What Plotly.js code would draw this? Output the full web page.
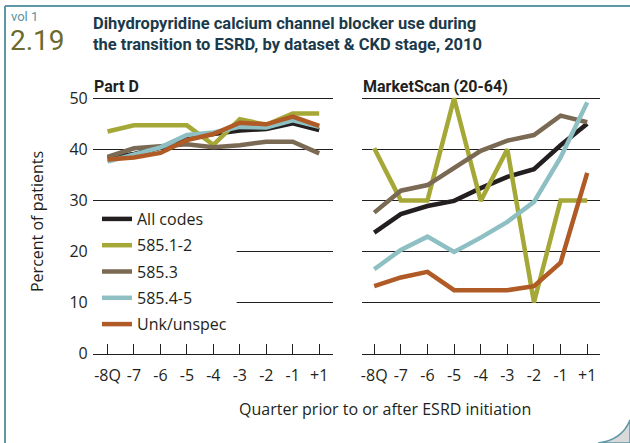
<!DOCTYPE html>
<html>
<head>
<meta charset="utf-8">
<script src="https://cdn.plot.ly/plotly-3.0.1.min.js"></script>
<style>html,body{margin:0;padding:0;background:#fff;}#chart{width:630px;height:443px;}</style>
</head>
<body>
<div id="chart"></div>
<script>
// ---- Data ----
var quarters = ['-8Q', '-7', '-6', '-5', '-4', '-3', '-2', '-1', '+1'];
var seriesNames = ['All codes', '585.1-2', '585.3', '585.4-5', 'Unk/unspec'];

// Part D
var partD_all     = [38.3, 39.1, 40.3, 42.0, 43.0, 43.7, 44.0, 45.1, 43.8];
var partD_5851_2  = [43.5, 44.7, 44.7, 44.7, 40.9, 45.9, 44.8, 47.0, 47.0];
var partD_5853    = [38.5, 40.2, 40.6, 41.0, 40.4, 40.8, 41.5, 41.5, 39.2];
var partD_5854_5  = [37.6, 38.9, 40.4, 42.8, 43.3, 44.4, 44.3, 45.7, 44.4];
var partD_unk     = [38.0, 38.4, 39.3, 41.8, 43.0, 45.2, 44.9, 46.4, 44.6];

// MarketScan (20-64)
var ms_all        = [23.7, 27.3, 28.9, 29.9, 32.4, 34.6, 36.1, 40.8, 45.0];
var ms_5851_2     = [40.2, 30.0, 30.0, 50.0, 29.9, 40.0, 10.0, 30.0, 30.0];
var ms_5853       = [27.6, 31.9, 33.0, 36.3, 39.7, 41.7, 42.8, 46.6, 45.3];
var ms_5854_5     = [16.5, 20.3, 22.9, 19.9, 22.7, 25.8, 29.7, 38.4, 49.2];
var ms_unk        = [13.2, 14.9, 16.0, 12.4, 12.4, 12.4, 13.2, 17.8, 35.4];

var yTickVals = [0, 10, 20, 30, 40, 50];

var colors = ['#231f20', '#a5a836', '#7b6a53', '#8dbfc3', '#b05a25'];
var FONT = 'Open Sans, Noto Sans, sans-serif';
var CFONT = 'Roboto, Open Sans, sans-serif';

var partD = [partD_all, partD_5851_2, partD_5853, partD_5854_5, partD_unk];
var ms = [ms_all, ms_5851_2, ms_5853, ms_5854_5, ms_unk];

var traces = [];
for (var i = 0; i < seriesNames.length; i++) {
  traces.push({
    x: quarters, y: partD[i], xaxis: 'x', yaxis: 'y',
    type: 'scatter', mode: 'lines', name: seriesNames[i],
    legendgroup: 'g' + i,
    line: {color: colors[i], width: 4.5},
    showlegend: true, hoverinfo: 'skip'
  });
}
for (var j = 0; j < seriesNames.length; j++) {
  traces.push({
    x: quarters, y: ms[j], xaxis: 'x2', yaxis: 'y2',
    type: 'scatter', mode: 'lines', name: seriesNames[j],
    legendgroup: 'g' + j,
    line: {color: colors[j], width: 4.5},
    showlegend: false, hoverinfo: 'skip'
  });
}

var W = 630, H = 443;
function px(x) { return x / W; }
function py(y) { return (H - y) / H; }

var xCommon = {
  type: 'category', showgrid: false, zeroline: false,
  showline: true, linecolor: '#231f20', linewidth: 1,
  ticks: 'inside', ticklen: 10, tickwidth: 1, tickcolor: '#231f20',
  tickfont: {family: FONT, size: 16, color: '#231f20'},
  ticklabelstandoff: 7,
  fixedrange: true
};
var yCommon = {
  range: [0, 51], tickvals: yTickVals, showgrid: true, gridcolor: '#231f20', gridwidth: 1,
  zeroline: false, showline: false, ticks: '',
  tickfont: {family: FONT, size: 16, color: '#231f20'},
  fixedrange: true
};

var layout = {
  width: W, height: H,
  margin: {l: 0, r: 0, t: 0, b: 0},
  paper_bgcolor: '#ffffff', plot_bgcolor: 'rgba(0,0,0,0)',
  showlegend: true,
  legend: {
    x: px(97), y: py(202), xanchor: 'left', yanchor: 'top',
    bgcolor: 'rgba(0,0,0,0)', borderwidth: 0,
    font: {family: FONT, size: 16, color: '#231f20'},
    tracegroupgap: 2.5, itemwidth: 30, traceorder: 'grouped'
  },
  xaxis: Object.assign({}, xCommon, {domain: [px(92.7), px(332.7)], range: [-0.56, 8.51], anchor: 'y'}),
  yaxis: Object.assign({}, yCommon, {domain: [py(353.5), py(93.2)], anchor: 'x', ticklabelstandoff: 4}),
  xaxis2: Object.assign({}, xCommon, {domain: [px(361.7), px(600)], range: [-0.47, 8.48], anchor: 'y2'}),
  yaxis2: Object.assign({}, yCommon, {domain: [py(353.5), py(93.2)], anchor: 'x2', showticklabels: false}),
  shapes: [
    {type: 'rect', xref: 'x', yref: 'y', x0: -0.56, x1: 4.88, y0: 3, y1: 28.5,
     fillcolor: '#ffffff', line: {width: 0}, layer: 'between'},
    {type: 'line', xref: 'paper', yref: 'paper', x0: px(5), x1: px(630), y0: py(6), y1: py(6),
     line: {color: '#5e97a6', width: 2}},
    {type: 'line', xref: 'paper', yref: 'paper', x0: px(5), x1: px(5), y0: py(6), y1: py(443),
     line: {color: '#5e97a6', width: 2}},
    {type: 'path', xref: 'paper', yref: 'paper',
     path: 'M ' + px(598) + ',' + py(443) + ' Q ' + px(622) + ',' + py(440) + ' ' + px(630) + ',' + py(420) +
           ' L ' + px(630) + ',' + py(443) + ' Z',
     fillcolor: '#d9d9d9', line: {color: '#5e97a6', width: 1.5}}
  ],
  annotations: [
    {text: 'vol 1', xref: 'paper', yref: 'paper', x: px(9), y: py(16), xanchor: 'left', yanchor: 'middle',
     showarrow: false, font: {family: CFONT, size: 13, color: '#5b93a3'}},
    {text: '2.19', xref: 'paper', yref: 'paper', x: px(8), y: py(41), xanchor: 'left', yanchor: 'middle',
     showarrow: false, font: {family: CFONT, size: 28, color: '#6c6a2c'}},
    {text: '<b>Dihydropyridine calcium channel blocker use during<br>the transition to ESRD, by dataset &amp; CKD stage, 2010</b>',
     xref: 'paper', yref: 'paper', x: px(91), y: py(34), xanchor: 'left', yanchor: 'middle', align: 'left',
     showarrow: false, font: {family: CFONT, size: 16.5, color: '#1b3a4b'}},
    {text: '<b>Part D</b>', xref: 'paper', yref: 'paper', x: px(92), y: py(86), xanchor: 'left', yanchor: 'middle',
     showarrow: false, font: {family: CFONT, size: 16, color: '#231f20'}},
    {text: '<b>MarketScan (20-64)</b>', xref: 'paper', yref: 'paper', x: px(361), y: py(86), xanchor: 'left', yanchor: 'middle',
     showarrow: false, font: {family: CFONT, size: 16, color: '#231f20'}},
    {text: 'Percent of patients', xref: 'paper', yref: 'paper', x: px(37), y: py(222), xanchor: 'center', yanchor: 'middle',
     textangle: -90, showarrow: false, font: {family: FONT, size: 16, color: '#231f20'}},
    {text: 'Quarter prior to or after ESRD initiation', xref: 'paper', yref: 'paper', x: px(385), y: py(409),
     xanchor: 'center', yanchor: 'middle', showarrow: false, font: {family: FONT, size: 16, color: '#231f20'}}
  ]
};

Plotly.newPlot('chart', traces, layout, {displayModeBar: false, staticPlot: true});
</script>
</body>
</html>
